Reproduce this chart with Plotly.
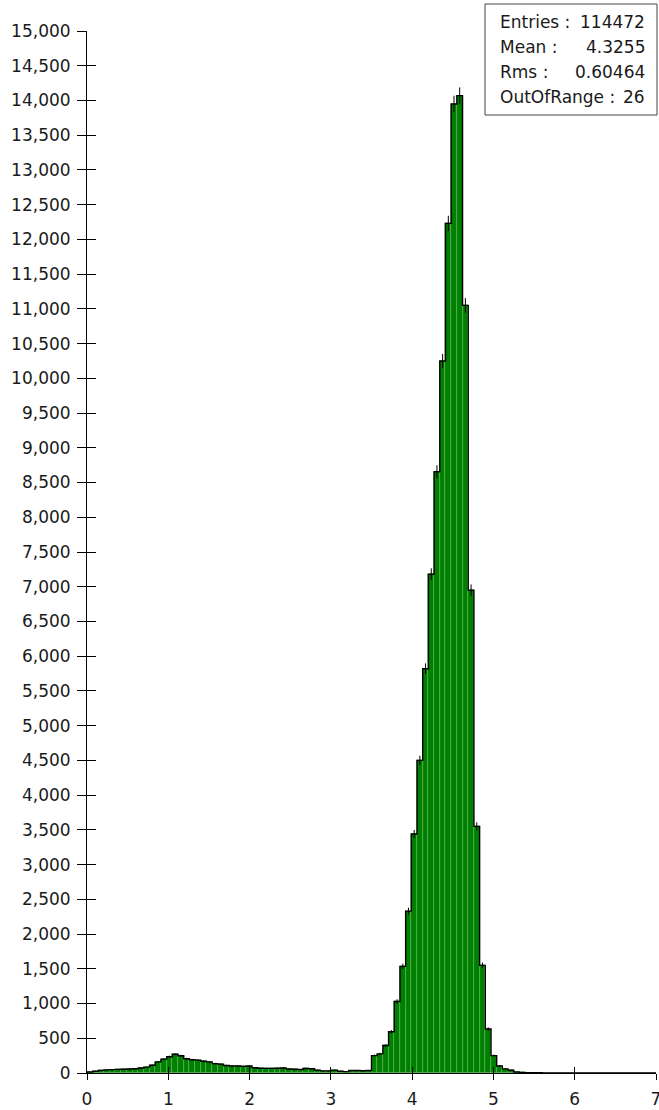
import numpy as np
import plotly.graph_objects as go

# ---- data -------------------------------------------------------------
x_min, x_max, n_bins = 0.0, 7.0, 100
counts = [
    15, 25, 38, 45, 48, 52, 55, 58, 62, 72,
    85, 112, 160, 200, 235, 270, 248, 205, 190, 185,
    170, 160, 135, 128, 108, 100, 100, 95, 100, 75,
    68, 66, 66, 68, 72, 58, 55, 50, 65, 62,
    40, 30, 30, 42, 25, 20, 35, 35, 33, 35,
    250, 275, 396, 594, 1030, 1535, 2330, 3440, 4500, 5820,
    7180, 8656, 10250, 12230, 13950, 14070, 11050, 6950, 3550, 1550,
    633, 250, 100, 60, 40, 15, 8, 5, 4, 3,
    2, 2, 1, 1, 1, 0, 1, 0, 1, 0,
    0, 1, 0, 0, 1, 2, 1, 0, 1, 0,
]
stat_labels = ["Entries :", "Mean :", "Rms :", "OutOfRange :"]
stat_values = ["114472", "4.3255", "0.60464", "26"]
x_ticks = [0, 1, 2, 3, 4, 5, 6, 7]

# ---- derived ----------------------------------------------------------
bw = (x_max - x_min) / n_bins
edges = x_min + bw * np.arange(n_bins + 1)
centers = edges[:-1] + bw / 2
errs = np.sqrt(np.array(counts, dtype=float))

step_x = [edges[0]] + list(edges[:-1]) + [edges[-1], edges[-1]]
step_y = [0] + list(counts) + [counts[-1], 0]

FONT = "DejaVu Sans"
W, H = 659, 1110
L, R, T, B = 87, 3, 31, 37
PW, PH = W - L - R, H - T - B


def px(xp):
    return (xp - L) / PW


def py(yp):
    return (H - B - yp) / PH


fig = go.Figure()
fig.add_trace(go.Bar(
    x=centers, y=counts, width=bw,
    marker=dict(color="#008000", line=dict(color="rgba(140,205,140,0.55)", width=0.5)),
    error_y=dict(type="data", array=errs, visible=True, color="black", thickness=1, width=0),
    showlegend=False, hoverinfo="x+y",
))
fig.add_trace(go.Scatter(
    x=step_x, y=step_y, mode="lines", line=dict(color="black", width=1.4, shape="hv"),
    showlegend=False, hoverinfo="skip",
))

tick_common = dict(showgrid=False, zeroline=False, tickcolor="black", tickwidth=1)
fig.update_layout(
    width=W, height=H,
    margin=dict(l=L, r=R, t=T, b=B, autoexpand=False),
    paper_bgcolor="white", plot_bgcolor="white",
    bargap=0,
    font=dict(family=FONT, size=17, color="#1a1a1a"),
    xaxis=dict(range=[x_min, x_max], tickvals=x_ticks, ticks="outside", ticklen=6,
               showline=True, linecolor="black", linewidth=1, ticklabelstandoff=5,
               ticklabeloverflow="allow", **tick_common),
    yaxis=dict(range=[0, 15000], dtick=500, tickformat=",d", ticks="outside", ticklen=9,
               showline=True, linecolor="black", linewidth=1, ticklabelstandoff=3,
               ticklabeloverflow="allow", **tick_common),
    xaxis2=dict(range=[x_min, x_max], tickvals=x_ticks, ticks="inside", ticklen=6,
                showticklabels=False, showline=False, overlaying="x", anchor="y",
                side="bottom", **tick_common),
    yaxis2=dict(range=[0, 15000], dtick=500, ticks="inside", ticklen=9,
                showticklabels=False, showline=False, overlaying="y", anchor="x",
                side="left", **tick_common),
)
# invisible trace so the overlay (inside-tick) axes are drawn
fig.add_trace(go.Scatter(x=[x_min], y=[0], xaxis="x2", yaxis="y2", mode="markers",
                         marker=dict(opacity=0), showlegend=False, hoverinfo="skip"))

# statistics box
fig.add_shape(type="rect", xref="paper", yref="paper",
              x0=px(485), x1=px(657), y0=py(115), y1=py(4),
              fillcolor="white", line=dict(color="#444444", width=1), layer="above")
rows_y = [22, 47, 72, 97]
for lab, val, yy in zip(stat_labels, stat_values, rows_y):
    fig.add_annotation(text=lab, xref="paper", yref="paper", x=px(498), y=py(yy),
                       xanchor="left", yanchor="middle", showarrow=False,
                       font=dict(family=FONT, size=17, color="#1a1a1a"))
    fig.add_annotation(text=val, xref="paper", yref="paper", x=px(647), y=py(yy),
                       xanchor="right", yanchor="middle", showarrow=False,
                       font=dict(family=FONT, size=17, color="#1a1a1a"))

fig.write_html("out.html",
               config={"displayModeBar": False},
               post_script="document.body.style.margin='0px';document.body.style.overflow='hidden';")
